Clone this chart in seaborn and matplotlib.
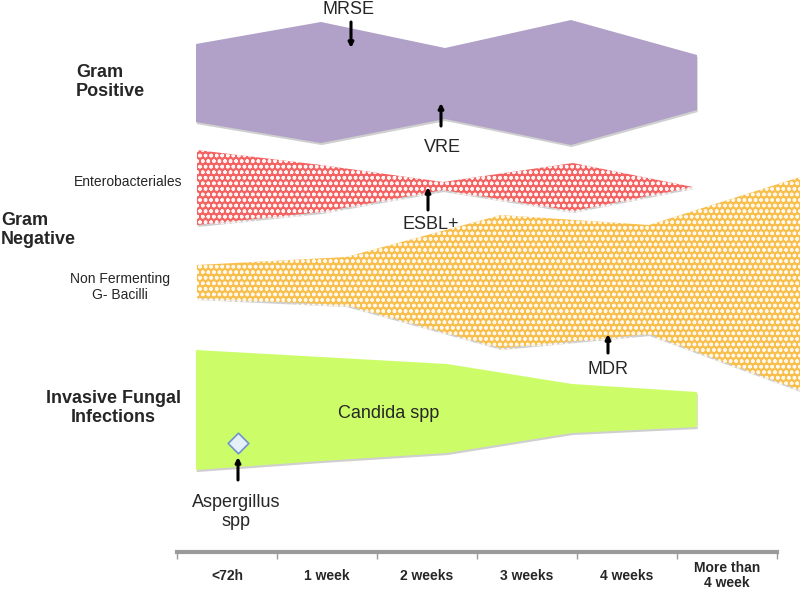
import matplotlib
matplotlib.use("Agg")
import matplotlib.pyplot as plt
import matplotlib.patheffects as pe
import seaborn as sns

# time slots along the bottom axis (one unit per slot)
slots = ["<72h", "1 week", "2 weeks", "3 weeks", "4 weeks", "More than\n4 week"]

# Gram positive band
gp_x = [0.19, 1.44, 2.68, 3.94, 5.20]
gp_top = [5.08, 5.30, 5.04, 5.32, 4.97]
gp_bot = [4.30, 4.09, 4.33, 4.07, 4.42]

# Enterobacteriales band
ent_x = [0.20, 1.44, 2.66, 3.96, 5.16]
ent_top = [4.02, 3.87, 3.70, 3.89, 3.65]
ent_bot = [3.27, 3.40, 3.62, 3.41, 3.65]

# Non fermenting G- bacilli band
nf_x = [0.20, 1.69, 3.24, 4.72, 6.23]
nf_top = [2.87, 2.95, 3.37, 3.27, 3.75]
nf_bot = [2.54, 2.47, 2.04, 2.18, 1.62]

# Invasive fungal infections band
ifi_x = [0.19, 1.44, 2.70, 3.95, 5.20]
ifi_top = [2.02, 1.95, 1.88, 1.68, 1.60]
ifi_bot = [0.82, 0.91, 0.99, 1.19, 1.25]

# aspergillus marker
asp_x = [0.61]
asp_y = [1.09]

sns.set_style("white")
plt.rcParams['font.family'] = ['Liberation Sans', 'DejaVu Sans']
plt.rcParams['hatch.linewidth'] = 1.0

fig = plt.figure(figsize=(8, 5.9), dpi=100)
ax = fig.add_axes([0, 0, 1, 1])
ax.set_xlim(-1.77, 6.23)
ax.set_ylim(-0.38, 5.52)

shadow = [pe.SimplePatchShadow(offset=(0.5, -1.5), shadow_rgbFace="#777777", alpha=0.35), pe.Normal()]

ax.fill_between(gp_x, gp_bot, gp_top, color="#b1a1c8", lw=0, path_effects=shadow, zorder=2)
ax.fill_between(ent_x, ent_bot, ent_top, facecolor="#f46262", edgecolor="#fff4f4",
                hatch="ooo", lw=0, path_effects=shadow, zorder=2)
ax.fill_between(nf_x, nf_bot, nf_top, facecolor="#f8bf4c", edgecolor="#fff8ea",
                hatch="ooo", lw=0, path_effects=shadow, zorder=2)
ax.fill_between(ifi_x, ifi_bot, ifi_top, color="#ccfd68", lw=0, path_effects=shadow, zorder=2)

sns.scatterplot(x=asp_x, y=asp_y, marker="D", s=110, color="#e6f0f8",
                edgecolor="#6f93cf", linewidth=1.2, ax=ax, zorder=4)

arrow = dict(arrowstyle="-|>", color="black", lw=2.2, mutation_scale=7, shrinkA=0, shrinkB=0)
ax.annotate("", xy=(1.74, 5.04), xytext=(1.74, 5.30), arrowprops=arrow, zorder=5)
ax.annotate("", xy=(2.64, 4.49), xytext=(2.64, 4.26), arrowprops=arrow, zorder=5)
ax.annotate("", xy=(2.51, 3.65), xytext=(2.51, 3.42), arrowprops=arrow, zorder=5)
ax.annotate("", xy=(4.31, 2.18), xytext=(4.31, 1.99), arrowprops=arrow, zorder=5)
ax.annotate("", xy=(0.61, 0.95), xytext=(0.61, 0.72), arrowprops=arrow, zorder=5)

big = 13
ax.text(1.72, 5.43, "MRSE", fontsize=big, ha="center", va="center")
ax.text(2.65, 4.04, "VRE", fontsize=big, ha="center", va="center")
ax.text(2.54, 3.27, "ESBL+", fontsize=big, ha="center", va="center")
ax.text(4.31, 1.83, "MDR", fontsize=big, ha="center", va="center")
ax.text(2.12, 1.38, "Candida spp", fontsize=big, ha="center", va="center", zorder=5)
ax.text(0.59, 0.40, "Aspergillus\nspp", fontsize=big, ha="center", va="center")

ax.text(-1.01, 4.70, "Gram\nPositive", fontsize=13, fontweight="bold", ha="left", va="center")
ax.text(-0.49, 3.70, "Enterobacteriales", fontsize=10, ha="center", va="center")
ax.text(-1.76, 3.22, "Gram\nNegative", fontsize=13, fontweight="bold", ha="left", va="center")
ax.text(-0.57, 2.65, "Non Fermenting\nG- Bacilli", fontsize=10, ha="center", va="center")
ax.text(-0.64, 1.44, "Invasive Fungal\nInfections", fontsize=13, fontweight="bold",
        ha="center", va="center")

# time axis
sns.despine(ax=ax, left=True, top=True, right=True)
ax.spines['bottom'].set_position(('data', 0))
ax.spines['bottom'].set_bounds(0, 6)
ax.spines['bottom'].set_color("#9a9a9a")
ax.spines['bottom'].set_linewidth(3)
ax.set_yticks([])
ax.set_xticks(range(7))
ax.set_xticklabels([])
ax.set_xticks([i + 0.5 for i in range(6)], minor=True)
ax.set_xticklabels(slots, minor=True, fontsize=10, fontweight="bold")
ax.tick_params(axis="x", which="major", direction="out", length=5, width=1, color="#9a9a9a", bottom=True)
ax.tick_params(axis="x", which="minor", length=0, pad=17, bottom=True)
for lab in ax.get_xticklabels(minor=True):
    lab.set_va("center")
    lab.set_linespacing(1.05)

fig.savefig("out.png", dpi=100)
